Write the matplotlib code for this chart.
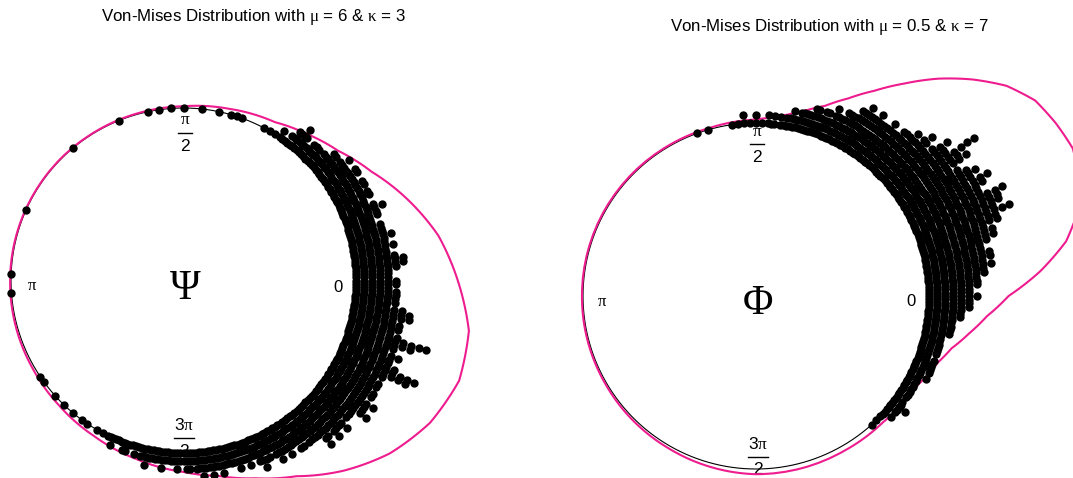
import numpy as np
import matplotlib.pyplot as plt
from matplotlib.path import Path
from matplotlib.patches import PathPatch
from matplotlib.lines import Line2D

plt.rcParams['font.family'] = 'Liberation Sans'
plt.rcParams['mathtext.fontset'] = 'custom'
plt.rcParams['mathtext.rm'] = 'Liberation Sans'
plt.rcParams['mathtext.it'] = 'Liberation Serif'
plt.rcParams['mathtext.bf'] = 'Liberation Sans:bold'

# stacked points: bin angle (degrees) and number of points stacked in that bin
psi_deg = [178, 156, 130, 112, 102, 98, 94, 90, 84, 78, 74, 72, 70, 62, 60, 58,
           56, 54, 52, 50, 48, 46, 44, 42, 40, 38, 36, 34, 32, 30, 28, 26, 24, 22,
           20, 18, 16, 14, 12, 10, 8, 6, 4, 2, 0, -2, -4, -6, -8, -10, -12, -14,
           -16, -18, -20, -22, -24, -26, -28, -30, -32, -34, -36, -38, -40, -42,
           -44, -46, -48, -50, -52, -54, -56, -58, -60, -62, -64, -66, -68, -70,
           -72, -74, -76, -78, -80, -82, -84, -86, -88, -90, -92, -94, -96, -98,
           -100, -102, -104, -106, -108, -110, -112, -114, -116, -118, -120,
           -124, -126, -130, -134, -138, -144, -146, -176]
psi_n = [1, 1, 1, 1, 1, 1, 1, 1, 1, 1, 1, 1, 1, 1, 1, 1,
         2, 1, 3, 4, 2, 3, 3, 3, 4, 3, 5, 4, 5, 4, 5, 5, 4, 5,
         5, 4, 5, 5, 5, 6, 5, 7, 6, 5, 6, 5, 6, 6, 7, 8, 7, 6,
         11, 7, 8, 7, 11, 7, 7, 6, 7, 8, 7, 6, 6, 7,
         6, 5, 7, 5, 5, 5, 4, 5, 4, 4, 4, 5, 3, 4,
         3, 3, 3, 4, 3, 3, 4, 3, 3, 2, 3, 2, 2, 2,
         2, 3, 2, 2, 1, 2, 1, 2, 1, 1, 1,
         1, 1, 1, 1, 1, 1, 1, 1]
psi_deg_odd = [55, 53, 51, 49, 47, 45, 43, 41, 39, 37, 35, 33, 31, 29, 27, 25,
               23, 21, 19, 17, 15, 13, 11, 9, 7, 5, 3, 1, -1, -3, -5, -7, -9,
               -11, -13, -15, -17, -19, -21, -23, -25, -27, -29, -31, -33, -35,
               -37, -39, -41, -43, -45, -47, -49, -51, -53, -55, -57, -59, -61,
               -63, -65, -67, -69, -71, -73, -75, -77, -79, -81, -83, -85, -87,
               -89, -91, -93, -95, -97, -99, -101, -103, -105, -107, -109, -111,
               -113, -115]
psi_n_odd = [1, 2, 3, 3, 2, 3, 2, 3, 4, 4, 4, 5, 4, 5, 4, 5,
             4, 6, 5, 4, 5, 6, 5, 5, 6, 7, 5, 5, 6, 6, 6, 5, 8,
             6, 7, 7, 9, 6, 7, 8, 10, 6, 7, 7, 6, 7,
             8, 6, 5, 6, 7, 6, 5, 5, 4, 5, 4, 4, 5,
             3, 4, 4, 3, 3, 4, 3, 3, 3, 4, 3, 3, 2,
             3, 2, 2, 2, 3, 2, 2, 2, 1, 1, 2, 1,
             1, 1]

phi_deg = [110, 106, 98, 96, 94, 92, 90, 88, 86, 84, 82, 80, 78, 76, 74, 72,
           70, 68, 66, 64, 62, 60, 58, 56, 54, 52, 50, 48, 46, 44, 42, 40, 38,
           36, 34, 32, 30, 28, 26, 24, 22, 20, 18, 16, 14, 12, 10, 8, 6, 4, 2,
           0, -2, -4, -6, -8, -10, -12, -14, -16, -18, -20, -22, -24, -26, -28,
           -30, -32, -34, -36, -38, -40, -42, -44, -46, -48]
phi_n = [1, 1, 1, 1, 2, 1, 2, 1, 2, 2, 2, 2, 3, 3, 3, 4,
         3, 4, 5, 4, 5, 6, 7, 6, 6, 6, 6, 7, 7, 7, 9, 8, 9,
         13, 11, 9, 11, 12, 10, 13, 12, 13, 11, 10, 9, 8, 9, 9, 8, 7, 6,
         7, 6, 5, 5, 4, 4, 3, 3, 3, 3, 3, 3, 3, 3, 2,
         2, 2, 2, 2, 3, 2, 2, 1, 1, 1]
phi_deg_odd = [85, 81, 79, 77, 75, 73, 71, 69, 67, 65, 63, 61, 59, 57, 55, 53,
               51, 49, 47, 45, 43, 41, 39, 37, 35, 33, 31, 29, 27, 25, 23, 21,
               19, 17, 15, 13, 11, 9, 7, 5, 3, 1, -1, -3, -5, -7, -9, -11, -13,
               -15, -17, -19, -21, -23, -25, -27, -29, -31, -33, -35, -37, -39,
               -41, -43]
phi_n_odd = [1, 1, 2, 2, 3, 3, 4, 4, 3, 4, 5, 5, 6, 6, 7, 6,
             7, 6, 7, 8, 8, 7, 10, 9, 10, 8, 10, 10, 11, 10, 12, 11,
             11, 9, 10, 8, 9, 8, 8, 7, 7, 6, 6, 6, 5, 4, 4, 4, 3,
             3, 3, 2, 3, 3, 2, 2, 2, 2, 2, 1, 2, 2,
             1, 1]

# density line (pink): angle (degrees) and radius
psi_dens_deg = [-180, -165, -150, -135, -120, -105, -90, -80, -70, -60, -50, -40,
                -30, -20, -10, 0, 10, 20, 30, 40, 50, 60, 75, 90, 105, 120, 135,
                150, 165, 180]
psi_dens_r = [1.005, 1.008, 1.012, 1.022, 1.04, 1.07, 1.11, 1.15, 1.22, 1.31, 1.44,
              1.56, 1.65, 1.70, 1.68, 1.59, 1.50, 1.38, 1.26, 1.17, 1.11, 1.06,
              1.03, 1.01, 1.005, 1.003, 1.003, 1.003, 1.004, 1.005]

phi_dens_deg = [-180, -150, -120, -90, -60, -45, -30, -25, -20, -15, -10, -5, 0,
                5, 10, 15, 20, 25, 30, 35, 40, 45, 50, 55, 60, 65, 70, 75, 80, 85,
                90, 105, 120, 150, 180]
phi_dens_r = [1.006, 1.008, 1.015, 1.03, 1.03, 1.035, 1.06, 1.09, 1.12, 1.17, 1.25,
              1.34, 1.46, 1.65, 1.82, 1.93, 1.99, 2.02, 2.0, 1.97, 1.89, 1.77,
              1.64, 1.50, 1.37, 1.26, 1.17, 1.11, 1.065, 1.035, 1.02, 1.008, 1.006,
              1.006, 1.006]

titles = ["Von-Mises Distribution with $\\mu$ = 6 & $\\kappa$ = 3",
          "Von-Mises Distribution with $\\mu$ = 0.5 & $\\kappa$ = 7"]
symbols = ["\u03a8", "\u03a6"]

W, H = 1073, 478
fig = plt.figure(figsize=(W / 100, H / 100), dpi=100)

pink = "#ee1c8e"
step = 0.0464
rmax = 2.1


def ftext(x, y, s, **kw):
    # place text by pixel position (from the top left corner)
    fig.text(x / W, 1 - y / H, s, ha="center", va="center", **kw)


def frac(x, ybar, num, den, half):
    ftext(x, ybar - 13, num, fontsize=12.5, zorder=2.5)
    ftext(x, ybar + 13, den, fontsize=12.5, zorder=2.5)
    fig.add_artist(Line2D([(x - half) / W, (x + half) / W],
                          [1 - ybar / H, 1 - ybar / H], color="black", lw=1,
                          zorder=2.5))


def panel(cx, cy, unit, deg, n, ddeg, dr):
    s = 2 * rmax * unit
    ax = fig.add_axes([(cx - s / 2) / W, (H - cy - s / 2) / H, s / W, s / H],
                      projection="polar")
    ax.set_ylim(0, rmax)
    ax.set_axis_off()
    ax.set_zorder(3)

    t = np.linspace(0, 2 * np.pi, 721)
    ax.plot(t, np.ones_like(t), color="black", lw=0.8, zorder=1)

    # polar transform bends the segments into arcs between the read points
    dpath = Path(np.column_stack([np.radians(ddeg), dr]), _interpolation_steps=60)
    ax.add_patch(PathPatch(dpath, fill=False, edgecolor=pink, lw=1.5, zorder=2))

    th, rr = [], []
    for a, c in zip(deg, n):
        th += [np.radians(a)] * c
        rr += list(1 + step * np.arange(c))
    ax.scatter(th, rr, s=36, color="black", linewidths=0, zorder=3)


panel(183.5, 280.5, 172.5, psi_deg + psi_deg_odd, psi_n + psi_n_odd,
      psi_dens_deg, psi_dens_r)
panel(756, 296, 173, phi_deg + phi_deg_odd, phi_n + phi_n_odd,
      phi_dens_deg, phi_dens_r)

# left panel labels
ftext(253, 17, titles[0], fontsize=12.2)
ftext(338, 287, "0", fontsize=12)
ftext(32, 286, r"$\pi$", fontsize=12)
frac(185, 133, r"$\pi$", "2", 7)
frac(184, 438, r"$3\pi$", "2", 10)
ftext(185, 289, symbols[0], fontsize=30, family="Liberation Serif")

# right panel labels
ftext(829, 27, titles[1], fontsize=12.2)
ftext(911, 302, "0", fontsize=12)
ftext(602, 301, r"$\pi$", fontsize=12)
frac(757, 144, r"$\pi$", "2", 7)
frac(758, 457, r"$3\pi$", "2", 10)
ftext(758, 304, symbols[1], fontsize=30, family="Liberation Serif")

fig.savefig("out.png", dpi=100)
